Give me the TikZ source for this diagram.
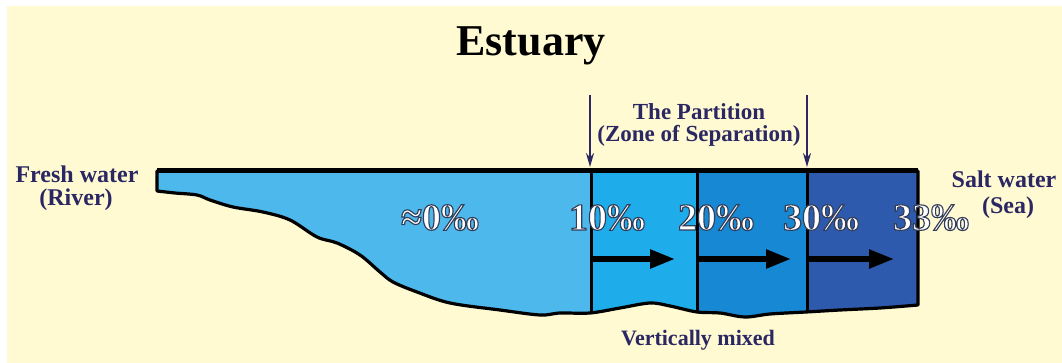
\documentclass[tikz,border=0pt]{standalone}
\usepackage{fontspec}
\setmainfont{Liberation Serif}
\newfontfamily\pctfont[FakeBold=3]{Liberation Serif}
\usetikzlibrary{arrows.meta}
\definecolor{cream}{HTML}{FFFAD2}
\definecolor{fresh}{RGB}{77,184,236}
\definecolor{zoneA}{RGB}{30,172,234}
\definecolor{zoneB}{RGB}{22,136,212}
\definecolor{zoneC}{RGB}{45,90,172}
\definecolor{navy}{RGB}{43,39,99}
\tikzset{
  lbl/.style={font=\bfseries\fontsize{24}{24}\selectfont, text=navy, anchor=base, inner sep=0pt},
  pct/.style={font=\pctfont\bfseries\fontsize{38}{38}\selectfont, text=white, anchor=base, inner sep=0pt},
  downarrow/.style={draw=navy, line width=2pt, -{Stealth[length=14pt,width=8pt]}},
  flowarrow/.style={draw=black, line width=5.5pt, -{Triangle[length=25pt,width=18pt]}},
  edge/.style={draw=black, line width=3.2pt, line join=round},
}
\newcommand\outlined[1]{\special{pdf:literal 0.2 0.24 0.34 RG}#1}
\begin{document}
\begin{tikzpicture}[x=1pt,y=-1pt]
\useasboundingbox (0,0) rectangle (1062,363);
\fill[white] (0,0) rectangle (1062,363);
\fill[cream] (7,6) rectangle (1062,363);
\def\estuarypath{(157,171) -- (918,171) -- plot[smooth, tension=0.55] coordinates {(918,305) (880,308) (840,310) (806,312) (770,314) (745,317) (720,313) (697,312) (670,306) (650,303) (620,308) (590,313) (560,313) (540,315) (500,310) (450,303) (417,292) (393,282) (380,272) (360,255) (337,243) (317,237) (290,220) (263,212) (233,207) (210,200) (197,195) (175,193) (157,191)} -- cycle}
\fill[fresh] \estuarypath;
\begin{scope}
  \clip \estuarypath;
  \fill[zoneA] (591,160) rectangle (697,330);
  \fill[zoneB] (697,160) rectangle (807,330);
  \fill[zoneC] (807,160) rectangle (918,330);
  \draw[line width=3pt] (591,160) -- (591,330);
  \draw[line width=3pt] (697,160) -- (697,330);
  \draw[line width=3pt] (807,160) -- (807,330);
\end{scope}
\draw[edge] \estuarypath;
\draw[line width=5pt] (157,170.5) -- (918,170.5);
% title
\node[font=\bfseries\fontsize{44}{44}\selectfont, anchor=base, inner sep=0pt] (title) at (531,56) {Estuary};
% partition labels and arrows
\node[lbl, font=\bfseries\fontsize{23}{23}\selectfont] (part1) at (699,120) {The Partition};
\node[lbl, font=\bfseries\fontsize{23}{23}\selectfont] (part2) at (699,142) {(Zone of Separation)};
\coordinate (d1t) at (590,95);
\coordinate (d1b) at (590,167);
\coordinate (d2t) at (807,95);
\coordinate (d2b) at (807,167);
\draw[downarrow] (d1t) -- (d1b);
\draw[downarrow] (d2t) -- (d2b);
% side labels
\node[lbl] (fresh1) at (77,183) {Fresh water};
\node[lbl] (fresh2) at (76,206) {(River)};
\node[lbl] (salt1) at (1004,188) {Salt water};
\node[lbl] (salt2) at (1008,214) {(Sea)};
\node[lbl, font=\bfseries\fontsize{22}{22}\selectfont] (mixed) at (698,345) {Vertically mixed};
% salinity values
\node[pct] (s0) at (440,230) {\outlined{≈0‰}};
\node[pct] (s10) at (607,230) {\outlined{10‰}};
\node[pct] (s20) at (716,230) {\outlined{20‰}};
\node[pct] (s30) at (821,230) {\outlined{30‰}};
\node[pct] (s33) at (931,230) {\outlined{33‰}};
% flow arrows
\coordinate (f1a) at (592,259);
\coordinate (f1b) at (675,259);
\coordinate (f2a) at (698,259);
\coordinate (f2b) at (791,259);
\coordinate (f3a) at (808,259);
\coordinate (f3b) at (894,259);
\draw[flowarrow] (f1a) -- (f1b);
\draw[flowarrow] (f2a) -- (f2b);
\draw[flowarrow] (f3a) -- (f3b);
\end{tikzpicture}
\end{document}
